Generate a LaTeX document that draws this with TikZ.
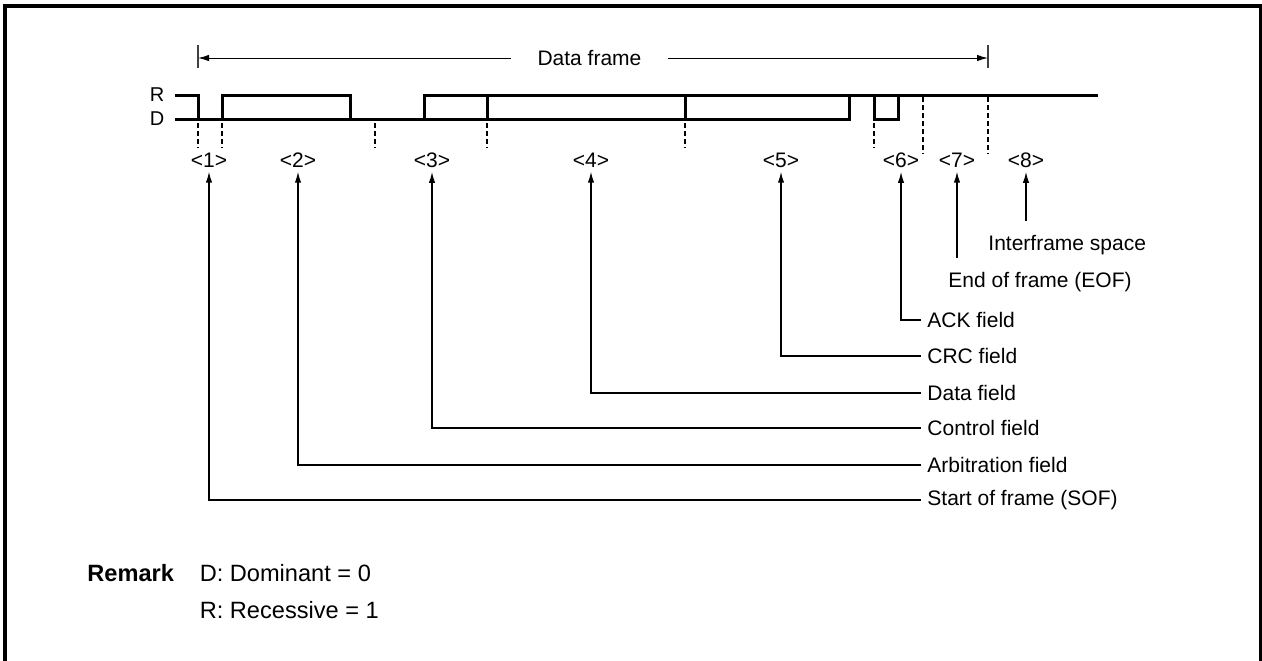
\documentclass[tikz,border=0pt]{standalone}
\usepackage{fontspec}
\setmainfont{Liberation Sans}
\usetikzlibrary{arrows.meta, positioning, calc}

\begin{document}
\begin{tikzpicture}[x=0.5pt, y=-0.5pt, >={Latex[length=5.5pt,width=3.2pt]},
    sig/.style={line width=1.5pt},
    guide/.style={line width=0.7pt, dash pattern=on 2.5pt off 1.5pt},
    lbl/.style={font=\fontsize{10.5}{12}\selectfont, inner xsep=1pt, inner ysep=2pt},
    field/.style={font=\fontsize{10.5}{12}\selectfont, anchor=west, inner xsep=3pt, inner ysep=3pt},
    conn/.style={->, line width=0.65pt}]
      \useasboundingbox (0,0) rectangle (1262,660);
      \draw[line width=2pt] (5.3,662) |- (1260.5,6.2) -- (1260.5,662);

      % signal levels
      \node[font=\fontsize{10}{11}\selectfont, inner sep=0pt] (r) at (157,95) {R};
      \node[font=\fontsize{10}{11}\selectfont, inner sep=0pt] (d) at (157,119) {D};

      % waveform
      \draw[sig] (175,95) -- (198,95) -- (198,119);
      \draw[sig] (175,119) -- (849,119) -- (849,95);
      \draw[sig] (222,119) -- (222,95) -- (350,95) -- (350,119);
      \draw[sig] (424,119) -- (424,95) -- (1098,95);
      \draw[sig] (487,95) -- (487,119) (685,95) -- (685,119);
      \draw[sig] (874,95) -- (874,119) -- (898,119) -- (898,95);

      \foreach \x in {198,222,375,487,685,874}
        \draw[guide] (\x,123) -- (\x,148);
      \foreach \x in {923,988}
        \draw[guide] (\x,97) -- (\x,154);

      % data frame span
      \node[font=\fontsize{10.5}{12}\selectfont, inner xsep=13pt] (frame) at (589.5,58) {Data frame};
      \coordinate (fs) at (198,58);
      \coordinate (fe) at (988,58);
      \draw[line width=0.6pt, black!75] (198,45) -- (198,68) (988,45) -- (988,68);
      \draw[->, line width=0.5pt] (frame) -- (fs);
      \draw[->, line width=0.5pt] (frame) -- (fe);

      % field numbers
      \foreach \n/\x in {1/209, 2/298, 3/432, 4/591, 5/781, 6/901, 7/957, 8/1026}
        \node[lbl] (n\n) at (\x,160) {<\n>};

      % field names
      \node[field] (ifs) at (982,245) {Interframe space};
      \node[field] (eof) at (942,282) {End of frame (EOF)};
      \node[field] (ack) at (921,320) {ACK field};
      \node[field] (crc) at (921,356) {CRC field};
      \node[field] (data) at (921,393) {Data field};
      \node[field] (ctrl) at (921,428) {Control field};
      \node[field] (arb) at (921,465) {Arbitration field};
      \node[field] (sof) at (921,500) {Start of frame (SOF)};

      \draw[conn] (sof) -| (n1);
      \draw[conn] (arb) -| (n2);
      \draw[conn] (ctrl) -| (n3);
      \draw[conn] (data) -| (n4);
      \draw[conn] (crc) -| (n5);
      \draw[conn] (ack) -| (n6);
      \draw[conn, shorten <=4pt] (eof.north -| n7) -- (n7);
      \draw[conn, shorten <=4pt] (ifs.north -| n8) -- (n8);

      % remark
      \node[font=\fontsize{11.8}{14}\selectfont\bfseries, anchor=west, inner sep=0pt] (rem) at (87,573) {Remark};
      \node[font=\fontsize{11.8}{14}\selectfont, inner sep=0pt, right=12.5pt of rem] (dom) {D: Dominant = 0};
      \node[font=\fontsize{11.8}{14}\selectfont, anchor=west, inner sep=0pt] (rec) at (dom.west |- 0,610) {R: Recessive = 1};
    \end{tikzpicture}
\end{document}
